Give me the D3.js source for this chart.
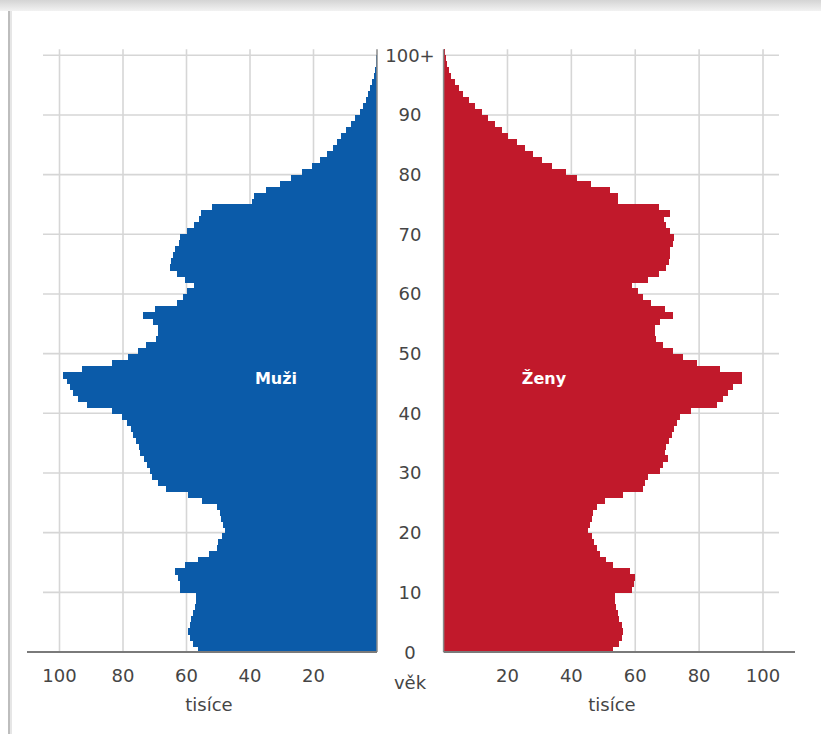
<!DOCTYPE html>
<html><head><meta charset="utf-8">
<script src="https://cdn.jsdelivr.net/npm/d3@7"></script>
<style>
html,body{margin:0;padding:0;background:#fff;}
svg{display:block;}
text{font-family:"DejaVu Sans",Verdana,sans-serif;}
</style></head>
<body>
<svg id="chart" width="821" height="734"></svg>
<script>
// Ages 0..100 (100 = 100+)
const ages = d3.range(0, 101);
// Men, thousands (index = age)
const muzi = [56.3,58,59,59.4,59,58.5,57.8,57.3,57,57,
  62,62.2,62.8,63.6,60.5,56.3,53,50.5,50,48.9,
  47.9,48.5,49,49.5,50.5,55,59.5,66.5,69,71,
  71.5,72.3,73.5,74.5,75,76,76.7,77.5,78.6,80.4,
  83.6,91.4,94.1,95.6,96.7,97.7,98.8,93,83.6,78.3,
  75.2,72.6,69.5,69,69,70.4,73.6,70,63,61,
  60,57.6,60.5,63,65.2,64.8,64.2,63.5,62.5,62,
  60,57.5,56,55.5,52,39.5,38.8,35,30.5,27,
  23.5,20.5,18,15.7,14,12.6,11.2,9.7,8.2,6.8,
  5.5,4.5,3.6,2.8,2.1,1.5,1.0,0.7,0.45,0.25,0.15];
// Women, thousands (index = age)
const zeny = [53.1,55,55.7,56.2,55.7,55,54.5,54.1,53.8,53.6,
  58.9,59.5,59.9,58.3,53.1,51,49,48,47.2,46.4,
  45.3,45.8,46.4,46.8,47.9,50.5,56.2,62.5,63,64.1,
  67.7,68.8,70.3,69.3,69.5,70.5,71.4,72,73,74,
  77.6,85.5,87.5,89.1,90.7,93.3,93.3,86.5,79.2,75,
  71.9,68.8,66.5,66.2,66.2,67.7,71.9,69.3,65,62.5,
  61,59.1,64.1,67.4,69.5,70.5,70.9,71,71.9,72,
  71,69.5,69,71,67.5,54.5,54.7,52,46,41.7,
  38.3,33.8,30.7,28,25.5,22.9,20.3,18.2,16.1,14,
  11.9,9.8,7.8,6.2,4.8,3.5,2.4,1.7,1.1,0.6,0.4];
const valueTicks = [20, 40, 60, 80, 100];
const ageTicks = [0,10,20,30,40,50,60,70,80,90,100];
const ageTickLabels = ["0","10","20","30","40","50","60","70","80","90","100+"];
const seriesLabels = ["Muži", "Ženy"];
const axisTitle = "tisíce";
const ageTitle = "věk";

const svg = d3.select("#chart");
const blue = "#0b5ba9", red = "#c1192b", grid = "#d6d6d6", txt = "#454545";

// frame (shadow at top, left border)
const defs = svg.append("defs");
const g1 = defs.append("linearGradient").attr("id","topsh").attr("x1",0).attr("y1",0).attr("x2",0).attr("y2",1);
g1.append("stop").attr("offset","0%").attr("stop-color","#d4d4d4");
g1.append("stop").attr("offset","100%").attr("stop-color","#f2f2f2");
svg.append("rect").attr("x",0).attr("y",0).attr("width",821).attr("height",11).attr("fill","url(#topsh)");
svg.append("line").attr("x1",9).attr("x2",9).attr("y1",11).attr("y2",734).attr("stroke","#bdbdbd").attr("stroke-width",2);
svg.append("line").attr("x1",11).attr("x2",11).attr("y1",11).attr("y2",734).attr("stroke","#e6e6e6").attr("stroke-width",2);

const y = d3.scaleLinear().domain([0, 100]).range([652, 55.3]);
const xL = d3.scaleLinear().domain([0, 100]).range([377, 59.5]);
const xR = d3.scaleLinear().domain([0, 100]).range([443.6, 763]);
const yTop = y(101);

// gridlines
const gridG = svg.append("g").attr("stroke", grid).attr("stroke-width", 1.6);
valueTicks.forEach(v => {
  gridG.append("line").attr("x1", xL(v)).attr("x2", xL(v)).attr("y1", yTop).attr("y2", 652);
  gridG.append("line").attr("x1", xR(v)).attr("x2", xR(v)).attr("y1", yTop).attr("y2", 652);
});
ageTicks.filter(a => a > 0).forEach(a => {
  gridG.append("line").attr("x1", 43).attr("x2", xL(0)).attr("y1", y(a)).attr("y2", y(a));
  gridG.append("line").attr("x1", xR(0)).attr("x2", 779).attr("y1", y(a)).attr("y2", y(a));
});

// bars
const bandH = y(0) - y(1);
svg.append("g").attr("shape-rendering", "crispEdges").selectAll("rect").data(ages).join("rect")
  .attr("x", a => xL(muzi[a])).attr("width", a => xL(0) - xL(muzi[a]))
  .attr("y", a => y(a + 1)).attr("height", bandH + 1).attr("fill", blue);
svg.append("g").attr("shape-rendering", "crispEdges").selectAll("rect").data(ages).join("rect")
  .attr("x", xR(0)).attr("width", a => xR(zeny[a]) - xR(0))
  .attr("y", a => y(a + 1)).attr("height", bandH + 1).attr("fill", red);

// central axis lines
svg.append("line").attr("x1", xL(0)).attr("x2", xL(0)).attr("y1", yTop).attr("y2", 652).attr("stroke", "#8a8a8a").attr("stroke-width", 1.5);
svg.append("line").attr("x1", xR(0)).attr("x2", xR(0)).attr("y1", yTop).attr("y2", 652).attr("stroke", "#8a8a8a").attr("stroke-width", 1.5);

// bottom axes
svg.append("line").attr("x1", 27).attr("x2", xL(0)).attr("y1", 652).attr("y2", 652).attr("stroke", "#7a7a7a").attr("stroke-width", 2);
svg.append("line").attr("x1", xR(0)).attr("x2", 795).attr("y1", 652).attr("y2", 652).attr("stroke", "#7a7a7a").attr("stroke-width", 2);

// value tick labels
const tl = svg.append("g").attr("fill", txt).attr("font-size", 18).attr("text-anchor", "middle");
valueTicks.forEach(v => {
  tl.append("text").attr("x", xL(v)).attr("y", 682).text(v);
  tl.append("text").attr("x", xR(v)).attr("y", 682).text(v);
});
tl.append("text").attr("x", 209).attr("y", 711).text(axisTitle);
tl.append("text").attr("x", 612).attr("y", 711).text(axisTitle);
tl.append("text").attr("x", 410).attr("y", 689).text(ageTitle);

// age tick labels
const al = svg.append("g").attr("fill", txt).attr("font-size", 18).attr("text-anchor", "middle");
ageTicks.forEach((a, i) => {
  al.append("text").attr("x", 410).attr("y", y(a) + 6.5).text(ageTickLabels[i]);
});

// series labels
svg.append("text").attr("x", 276).attr("y", 384).attr("text-anchor", "middle")
  .attr("fill", "#fff").attr("font-weight", "bold").attr("font-size", 16).text(seriesLabels[0]);
svg.append("text").attr("x", 544).attr("y", 384).attr("text-anchor", "middle")
  .attr("fill", "#fff").attr("font-weight", "bold").attr("font-size", 16).text(seriesLabels[1]);
</script>
</body></html>
